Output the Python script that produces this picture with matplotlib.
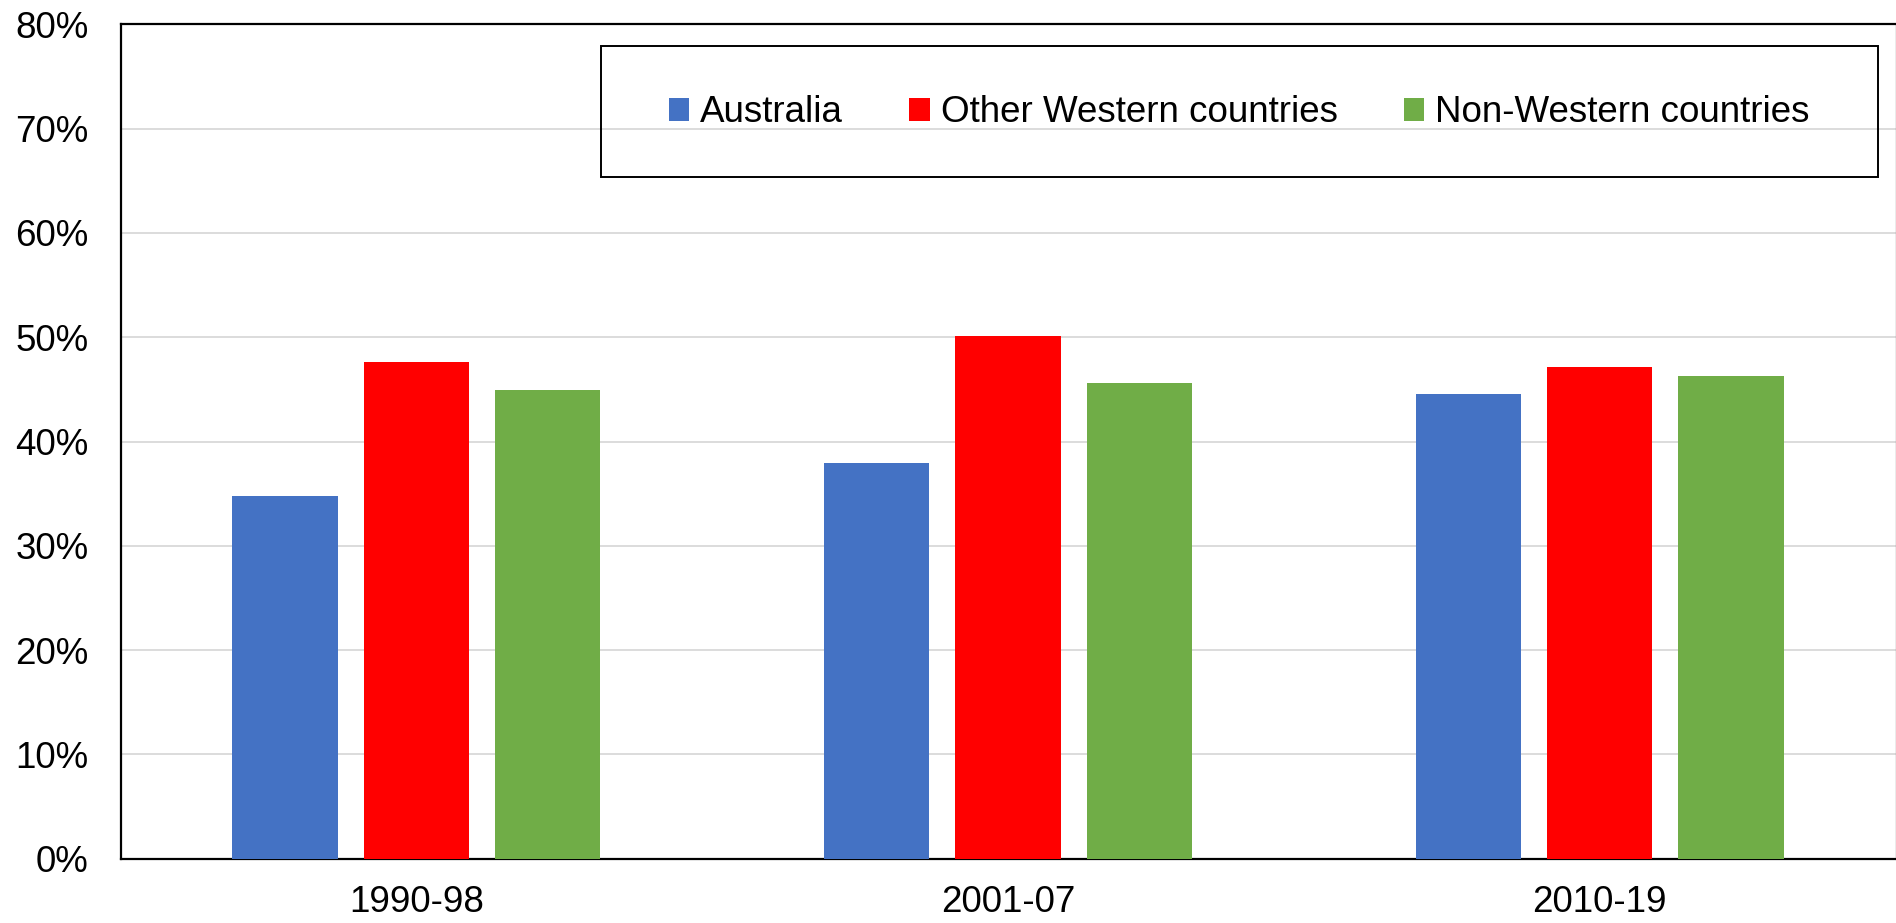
import matplotlib
matplotlib.use("Agg")
import matplotlib.pyplot as plt
from matplotlib.patches import Rectangle
from matplotlib.ticker import PercentFormatter
import numpy as np

plt.rcParams['font.family'] = ['Liberation Sans', 'DejaVu Sans']

periods = ["1990-98", "2001-07", "2010-19"]
series_names = ["Australia", "Other Western countries", "Non-Western countries"]
australia = [34.8, 37.9, 44.6]
other_western = [47.6, 50.1, 47.1]
non_western = [44.9, 45.6, 46.3]
colors = ["#4472C4", "#FF0000", "#70AD47"]
y_ticks = [0, 10, 20, 30, 40, 50, 60, 70, 80]

FS = 26.5

fig = plt.figure(figsize=(18.96, 9.23), dpi=100)
ax = fig.add_axes([120.5 / 1896, 64.3 / 923, (1895.5 - 120.5) / 1896, (858.7 - 24.3) / 923])

x = np.arange(len(periods))
width = 0.178
offset = 0.222
for i, (vals, name, c) in enumerate(zip([australia, other_western, non_western], series_names, colors)):
    ax.bar(x + (i - 1) * offset, vals, width, color=c, label=name, zorder=3)

ax.set_xlim(-0.5, 2.5)
ax.set_ylim(0, 80)
ax.set_yticks(y_ticks)
ax.yaxis.set_major_formatter(PercentFormatter(decimals=0))
ax.set_xticks(x)
ax.set_xticklabels(periods)
ax.tick_params(axis='y', length=0, labelsize=FS, pad=23)
ax.tick_params(axis='x', length=0, labelsize=FS, pad=19)
ax.grid(axis='y', color='#d9d9d9', linewidth=1.3, zorder=0)
ax.set_axisbelow(True)
for s in ['left', 'bottom', 'top']:
    ax.spines[s].set_color('black')
    ax.spines[s].set_linewidth(1.6)
ax.spines['right'].set_color('#999999')
ax.spines['right'].set_linewidth(1.0)

# legend frame
fig.patches.append(Rectangle((601 / 1896, 1 - 177 / 923), (1877.5 - 601) / 1896, (177 - 45.7) / 923,
                             transform=fig.transFigure, fill=False, edgecolor='black', linewidth=1.4, zorder=5))
leg = fig.legend(loc='center', bbox_to_anchor=((601 + 1877.5) / 2 / 1896, 1 - 113 / 923),
                 ncol=3, frameon=False, fontsize=FS, handlelength=0.55, handleheight=0.55,
                 handletextpad=0.3, columnspacing=1.8)

fig.savefig("out.png", dpi=100)
